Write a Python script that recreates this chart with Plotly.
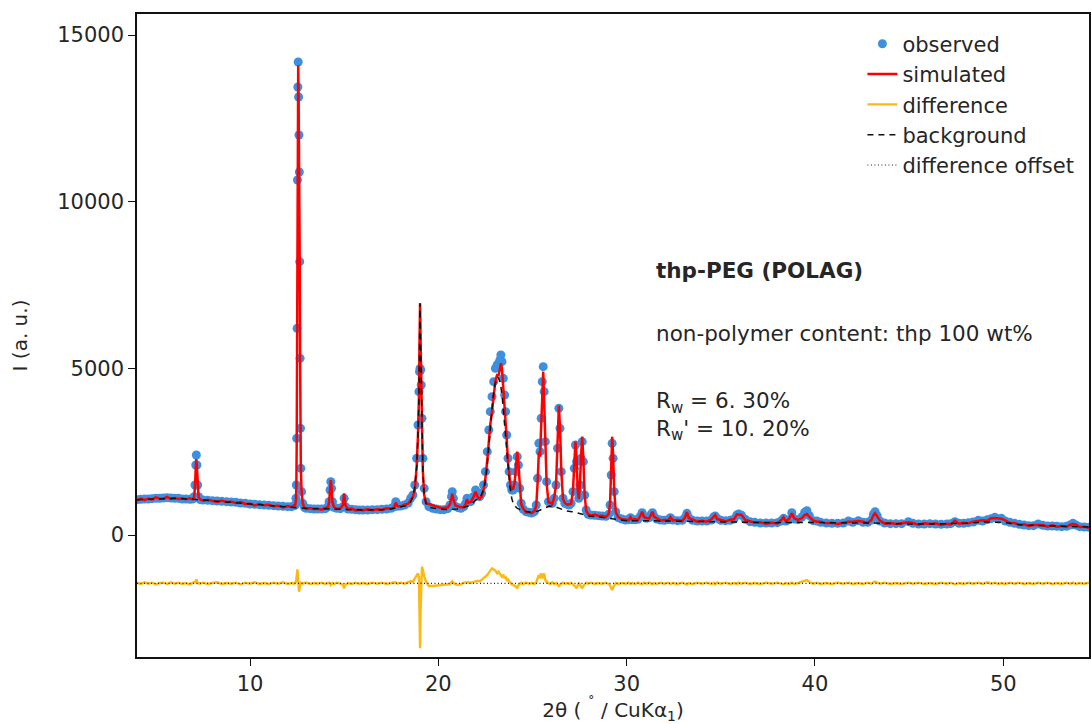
import plotly.graph_objects as go

# ---- observed pattern (2theta in degrees, intensity) and residual obs-calc, by region ----
tt1 = [4.0,4.2,4.4,4.6,4.8,5.0,5.2,5.4,5.6,5.8,6.0,6.2,6.4,6.6,6.8,
       6.95,7.03,7.08,7.12,7.15,7.18,7.22,7.27,7.35,
       7.5,7.75,8.0,8.25,8.5,8.75,9.0,9.25,9.5,9.75,10.0,10.25,10.5,10.75,11.0,11.25,11.5,11.75,12.0,
       12.2,12.35]
obs1 = [1060,1070,1080,1080,1090,1100,1100,1110,1120,1110,1100,1100,1080,1080,1070,
        1080,1150,1500,2100,2400,2100,1500,1150,1060,
        1050,1040,1030,1020,1010,1000,990,980,960,950,930,920,910,900,890,880,870,860,850,
        850,880]
res1 = [20,-20,30,-10,20,-30,10,20,-20,30,-10,20,-20,10,-30,
        10,20,40,60,120,40,-20,10,-10,
        20,-20,10,30,-20,10,-10,20,-30,20,-10,30,-20,10,-20,20,-10,30,-20,
        10,-10]

tt2 = [12.40,12.44,12.46,12.48,12.50,12.52,12.54,12.56,12.58,12.60,12.62,12.64,12.66,12.68,12.70,12.74,12.80,12.90]
obs2 = [900,1100,1500,2900,6200,10650,13440,14190,13140,12000,10890,8200,5300,3200,2000,1300,950,820]
res2 = [10,50,120,200,300,420,250,100,-100,-250,-200,-120,-60,-30,20,10,-10,20]

tt3 = [13.0,13.2,13.4,13.6,13.8,14.0,
       14.15,14.2,14.25,14.29,14.33,14.38,14.45,
       14.6,14.8,
       14.93,15.0,15.07,15.2,
       15.4,15.6,15.8,16.0,
       16.25,16.5,16.75,17.0,17.25,17.5,
       17.65,17.74,17.82,
       18.0,18.2,18.4]
obs3 = [800,790,780,780,780,790,
        850,1000,1350,1600,1400,1000,830,
        800,790,
        850,1100,850,780,
        770,760,750,750,
        750,760,760,770,780,800,
        850,1000,860,
        870,900,960]
res3 = [20,-20,10,-10,20,-20,
        10,20,0,-50,-20,10,-20,
        20,-10,
        -40,-150,-40,10,
        -20,20,-10,10,
        -20,20,-10,20,-20,10,
        20,30,-10,
        20,-10,20]

tt4 = [18.53,18.65,18.75,18.85,18.92,18.97,19.0,19.03,19.06,19.09,19.13,19.18,19.25,19.35,
       19.5,19.7,19.9,20.1,20.3,20.5,20.62,20.7,20.74,20.8,20.9,21.05,21.2]
obs4 = [1100,1200,1500,2300,3300,4300,4900,5000,4950,4500,3500,2300,1400,1000,
        850,800,780,760,760,790,900,1150,1300,1100,860,820,800]
res4 = [60,50,150,250,300,200,-800,-1950,-800,200,500,400,200,50,
        -80,-80,-70,-60,-50,-40,-20,40,60,20,-30,-40,-30]

tt5 = [21.35,21.45,21.52,21.6,21.72,21.85,21.98,22.1,22.2,22.3,22.4,22.5,22.6,22.68,22.76,22.85,
       22.94,23.03,23.12,23.2,23.27,23.32,23.38,23.45,23.52,23.57,23.63,23.7,23.76,23.83,23.9,23.97]
obs5 = [850,950,1100,1000,1000,1150,1350,1200,1150,1250,1500,1900,2500,3150,3700,4150,
        4600,5000,5100,5150,5250,5400,5200,4700,4200,3700,3000,2300,1900,1500,1350,1350]
res5 = [20,30,30,30,10,30,50,80,60,100,150,200,250,300,380,450,
        420,380,300,350,280,250,200,260,150,200,100,120,50,20,-30,-40]

tt6 = [24.05,24.12,24.19,24.25,24.32,24.4,
       24.5,24.65,24.8,24.95,25.1,25.2,
       25.27,25.34,25.4,25.46,25.52,25.57,25.62,25.68,
       25.75,25.85,25.95,26.05,26.15,26.25,
       26.33,26.4,26.46,26.53,26.62,26.72,
       26.85,26.95,27.05,27.15,
       27.22,27.28,27.34,27.4,27.46,27.52,27.58,27.64,27.7,27.77,
       27.85,27.95,28.1,28.3,28.5,28.7,28.9,
       29.05,29.12,29.18,29.23,29.28,29.34,29.42,
       29.55,29.75,29.95]
obs6 = [1500,1900,2350,2100,1400,950,
        780,700,680,660,700,900,
        1700,2750,2500,3500,4600,5050,4300,2800,
        1600,1000,950,950,1100,1500,
        2600,3800,3200,1900,1100,950,
        920,900,950,1300,
        2000,2700,2200,1300,1100,1500,2300,2800,2200,1200,
        750,620,600,590,580,570,560,
        620,900,1800,2750,2300,1300,700,
        520,480,450]
res6 = [-60,-100,-150,-60,-20,20,
        -20,20,-10,10,-20,30,
        150,250,150,300,200,150,300,100,
        40,20,-20,30,-20,10,
        -30,-80,-40,-20,20,-10,
        10,-20,20,-30,
        -60,-100,-150,-60,20,-40,-80,-150,-80,-20,
        20,-10,20,-20,10,-10,20,
        -20,-60,-150,-200,-120,-40,10,
        -20,10,-10]

tt7 = [30.1,30.2,30.3,30.45,30.6,30.72,30.82,30.92,31.05,31.2,
       31.3,31.37,31.45,31.6,31.8,32.0,32.2,32.32,32.45,32.7,
       32.95,33.1,33.2,33.3,33.5,33.75,34.0,34.25,34.5,34.62,
       34.7,34.8,35.0,35.25,35.5,35.7,35.85,35.95,36.1,36.3,
       36.55,36.8,37.1,37.4,37.7,38.0,38.2,38.33,38.45,38.62,
       38.77,38.9,39.1,39.3,39.45,39.57,39.7,39.9,40.1,40.3,
       40.6,40.9,41.2,41.5,41.78,42.0,42.3,42.55,42.8,43.0,
       43.1,43.19,43.3,43.45,43.7,44.0,44.3,44.6,44.96,45.2,
       45.5,45.8,46.1,46.4,46.7,47.0,47.2,47.43,47.65,47.9,
       48.15,48.4,48.67,48.9,49.15,49.35,49.55,49.75,49.9,50.1,
       50.35,50.6,50.85,51.1,51.35,51.6,51.85,52.1,52.35,52.6,
       52.85,53.1,53.35,53.55,53.7,53.85,54.05,54.3,54.55]
obs7 = [460,520,460,460,470,560,670,560,500,520,
        620,670,560,480,450,440,460,520,450,430,
        440,520,650,520,440,420,420,420,450,540,
        570,500,440,430,440,480,600,630,590,470,
        400,380,360,360,360,370,420,500,420,460,
        670,480,460,540,680,730,580,430,420,380,
        360,350,350,360,420,380,430,380,380,450,
        620,700,580,420,360,340,340,340,400,350,
        330,330,340,330,320,330,340,400,350,350,
        370,390,440,420,460,490,530,480,500,420,
        380,350,320,300,280,280,330,290,270,270,
        260,250,260,300,350,300,250,240,230]
res7 = [20,-20,10,-20,20,-10,-30,20,-10,20,
        -20,-30,10,-20,20,-10,20,-20,10,-20,
        20,-10,-40,10,-20,20,-10,20,-20,10,
        -30,20,-10,20,-20,10,-20,20,-10,20,
        -20,10,-20,20,-10,20,-20,-30,10,-20,
        20,-20,10,40,80,100,40,-10,20,-20,
        10,-20,20,-10,20,-20,10,-20,20,-10,
        30,50,20,-10,20,-20,10,-20,20,-10,
        20,-20,10,-20,20,-10,20,-30,10,-20,
        20,-10,20,-20,30,-10,20,-20,10,-20,
        20,-10,20,-20,10,-20,20,-10,20,-20,
        10,-20,20,-10,20,-20,10,-10,20]

# ---- background (polymer + baseline) ----
bg_tt = [4.0,5.0,6.0,7.0,8.0,9.0,10.0,11.0,12.0,13.0,14.0,15.0,16.0,17.0,
         17.5,18.0,18.3,18.5,18.65,18.75,18.85,18.92,18.97,19.0,
         19.03,19.06,19.09,19.13,19.18,19.25,19.35,19.5,
         20.0,20.5,21.0,21.5,21.8,22.0,22.2,22.4,
         22.5,22.6,22.7,22.8,22.9,23.0,
         23.1,23.15,23.2,23.3,23.4,23.5,23.6,23.7,23.8,23.9,24.0,
         24.2,24.4,24.7,25.0,25.3,25.6,25.9,26.2,26.5,26.8,27.1,27.4,27.7,28.0,
         28.5,29.0,29.5,30.0,
         31,32,33,34,35,36,37,38,39,40,41,42,43,44,45,46,47,48,49,50,51,52,53,54,
         54.55]
bg_val = [1060,1090,1100,1070,1020,980,920,880,840,800,780,770,750,760,
          780,850,880,950,1150,1450,2050,3000,4100,5700,
          6950,5750,4300,3000,1900,1200,950,830,
          780,760,780,850,950,1050,1100,1350,
          1600,2100,2800,3500,4100,4500,
          4700,4750,4700,4550,4100,3450,2700,2000,1450,1100,900,
          800,750,700,680,720,800,870,850,780,720,700,650,600,570,
          540,500,450,430,
          430,420,410,400,400,390,360,370,380,370,350,360,360,340,330,330,330,350,390,380,300,280,250,250,
          240]

diff_offset = -1450
x_ticks = [10, 20, 30, 40, 50]
y_ticks = [0, 5000, 10000, 15000]
y_tick_labels = ["0", "5000", "10000", "15000"]

two_theta = tt1 + tt2 + tt3 + tt4 + tt5 + tt6 + tt7
observed = obs1 + obs2 + obs3 + obs4 + obs5 + obs6 + obs7
residual = res1 + res2 + res3 + res4 + res5 + res6 + res7
simulated = [o - r for o, r in zip(observed, residual)]
difference = [r + diff_offset for r in residual]

FONT = "DejaVu Sans"
TXT = "#262626"
fig = go.Figure()
fig.add_trace(go.Scatter(x=two_theta, y=observed, mode="markers", name="observed",
                         marker=dict(color="#3d8fe0", size=9, line=dict(width=0)),
                         legendgroup="a"))
fig.add_trace(go.Scatter(x=two_theta, y=simulated, mode="lines", name="simulated",
                         line=dict(color="#ff0000", width=2.5), legendgroup="b"))
fig.add_trace(go.Scatter(x=two_theta, y=difference, mode="lines", name="difference",
                         line=dict(color="#fdb913", width=2.4), legendgroup="c"))
fig.add_trace(go.Scatter(x=bg_tt, y=bg_val, mode="lines", name="background",
                         line=dict(color="#111111", width=1.5, dash="6px,5px"), legendgroup="d"))
fig.add_trace(go.Scatter(x=[bg_tt[0], bg_tt[-1]], y=[diff_offset, diff_offset], mode="lines",
                         name="difference offset",
                         line=dict(color="#222222", width=1.1, dash="1px,2.5px"), legendgroup="e"))

fig.add_annotation(x=31.44, y=7950, xref="x", yref="y", xanchor="left", yanchor="middle",
                   text="<b>thp-PEG (POLAG)</b>", showarrow=False,
                   font=dict(family=FONT, size=21.5, color=TXT))
fig.add_annotation(x=31.44, y=6060, xref="x", yref="y", xanchor="left", yanchor="middle",
                   text="non-polymer content: thp 100 wt%", showarrow=False,
                   font=dict(family=FONT, size=21.5, color=TXT))
fig.add_annotation(x=31.44, y=3560, xref="x", yref="y", xanchor="left", yanchor="middle",
                   text="R<sub>w</sub> = 6. 30%<br>R<sub>w</sub>' = 10. 20%", showarrow=False,
                   align="left", font=dict(family=FONT, size=21.5, color=TXT))

axis_common = dict(showline=True, linecolor="#111111", linewidth=1.5, mirror=True,
                   showgrid=False, zeroline=False, ticks="outside", ticklen=7,
                   tickcolor="#111111", tickwidth=1,
                   tickfont=dict(family=FONT, size=21, color=TXT))
fig.update_layout(
    width=1091, height=724,
    margin=dict(l=137, r=0, t=14, b=67),
    paper_bgcolor="white", plot_bgcolor="white",
    font=dict(family=FONT, size=21, color=TXT),
    xaxis=dict(range=[4.0, 54.55], tickmode="array", tickvals=x_ticks,
               ticktext=[str(v) for v in x_ticks],
               title=dict(text="2θ ( <sup>˚</sup> / CuKα<sub>1</sub>)", standoff=2,
                          font=dict(family=FONT, size=20, color=TXT)),
               **axis_common),
    yaxis=dict(range=[-3660, 15630], tickmode="array", tickvals=y_ticks,
               ticktext=y_tick_labels,
               title=dict(text="I (a. u.)", standoff=24,
                          font=dict(family=FONT, size=20, color=TXT)),
               **axis_common),
    legend=dict(x=0.762, y=0.985, xanchor="left", yanchor="top",
                bgcolor="rgba(0,0,0,0)", tracegroupgap=0,
                font=dict(family=FONT, size=21, color=TXT)),
    showlegend=True,
)

fig.write_html("out.html")
